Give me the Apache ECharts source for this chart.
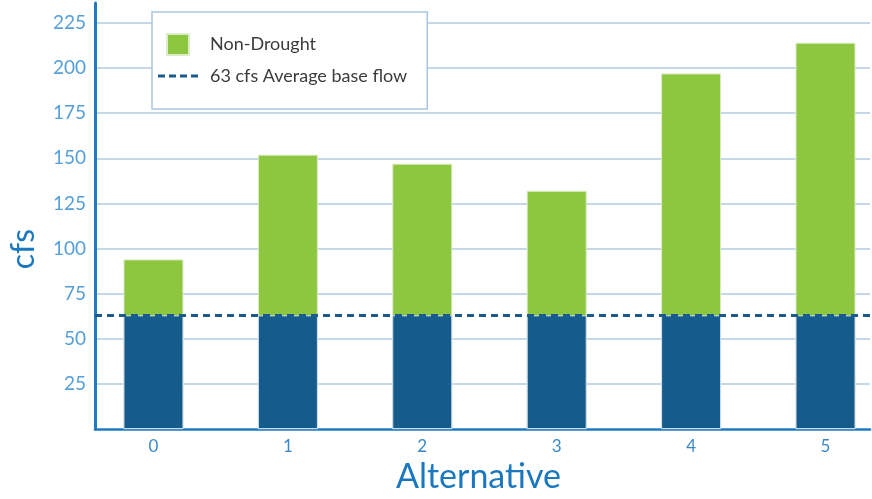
<!DOCTYPE html>
<html>
<head>
<meta charset="utf-8">
<script src="https://cdn.jsdelivr.net/npm/echarts@6/dist/echarts.min.js"></script>
<style>
html,body{margin:0;padding:0;background:#fff;}
#chart{width:872px;height:499px;}
</style>
</head>
<body>
<div id="chart"></div>
<script>
// Data
const alternatives = [0, 1, 2, 3, 4, 5];
const baseFlow = [63, 63, 63, 63, 63, 63];            // dark blue part of each bar
const nonDroughtTotal = [94, 152, 147, 132, 197, 214]; // top of each green bar
const averageBaseFlow = 63;
const yTicks = [25, 50, 75, 100, 125, 150, 175, 200, 225];

const chart = echarts.init(document.getElementById('chart'), null, {renderer: 'canvas'});

const baseData = alternatives.map((a, i) => [a, baseFlow[i]]);
const totalData = alternatives.map((a, i) => [a, nonDroughtTotal[i]]);

const option = {
  animation: false,
  backgroundColor: '#ffffff',
  textStyle: {fontFamily: 'Lato'},
  grid: {left: 95, right: 2, top: 3, bottom: 67, containLabel: false},
  legend: {
    orient: 'vertical',
    left: 152, top: 12,
    padding: [21, 20, 24, 6],
    itemWidth: 40, itemHeight: 21, itemGap: 11,
    backgroundColor: '#ffffff',
    borderColor: '#aac6de', borderWidth: 1.5,
    textStyle: {color: '#3c3c3c', fontSize: 18, fontFamily: 'Lato', padding: [0, 0, 0, 7]},
    data: [
      {name: 'Non-Drought', icon: 'path://M0,0H22V21H0Z'},
      {name: '63 cfs Average base flow', icon: 'path://M0,0H7V3H0Z M11,0H18V3H11Z M22,0H29V3H22Z M33,0H40V3H33Z'}
    ]
  },
  xAxis: {
    type: 'value',
    min: -0.435, max: 5.331,
    name: 'Alternative',
    nameLocation: 'middle', nameGap: 28,
    nameTextStyle: {color: '#1b78be', fontSize: 34, fontFamily: 'Lato', padding: [0, 8, 0, 0]},
    axisLine: {show: true, onZero: false, lineStyle: {color: '#1f7bc2', width: 2.5}},
    axisTick: {show: false},
    splitLine: {show: false},
    axisLabel: {
      color: '#3a88c8', fontSize: 17, margin: 9,
      showMinLabel: false, showMaxLabel: false,
      formatter: v => (Number.isInteger(v) && alternatives.indexOf(v) >= 0) ? String(v) : ''
    }
  },
  yAxis: {
    type: 'value',
    min: 0, max: 236, interval: 25,
    name: 'cfs',
    nameLocation: 'middle', nameRotate: 90, nameGap: 55,
    nameTextStyle: {color: '#1b78be', fontSize: 32, fontFamily: 'Lato', padding: [0, 66, 0, 0]},
    axisLine: {show: true, onZero: false, lineStyle: {color: '#1f7bc2', width: 3}},
    axisTick: {show: false},
    splitLine: {show: true, showMaxLine: false, showMinLine: false, lineStyle: {color: '#b3cadf', width: 1.5}},
    axisLabel: {
      color: '#559fd8', fontSize: 19, margin: 9,
      showMinLabel: false, showMaxLabel: false,
      formatter: v => yTicks.indexOf(v) >= 0 ? String(v) : ''
    }
  },
  series: [
    {
      name: 'Non-Drought',
      type: 'bar', barWidth: 60, barGap: '-100%',
      itemStyle: {color: '#8dc63f', borderColor: '#dcebc8', borderWidth: 1},
      data: totalData
    },
    {
      name: 'Base',
      type: 'bar', barWidth: 60, barGap: '-100%',
      itemStyle: {color: '#155b8c', borderColor: '#d5e2ee', borderWidth: 1},
      data: baseData
    },
    {
      name: '63 cfs Average base flow',
      type: 'line',
      data: [],
      color: '#1a5a8c',
      itemStyle: {color: '#1a5a8c'},
      lineStyle: {color: '#1a5a8c', type: [7, 5], width: 3},
      markLine: {
        silent: true,
        symbol: ['none', 'none'],
        label: {show: false},
        lineStyle: {color: '#1a5a8c', type: [7, 5], width: 3},
        data: [{yAxis: averageBaseFlow}]
      }
    }
  ]
};
chart.setOption(option);
</script>
</body>
</html>
